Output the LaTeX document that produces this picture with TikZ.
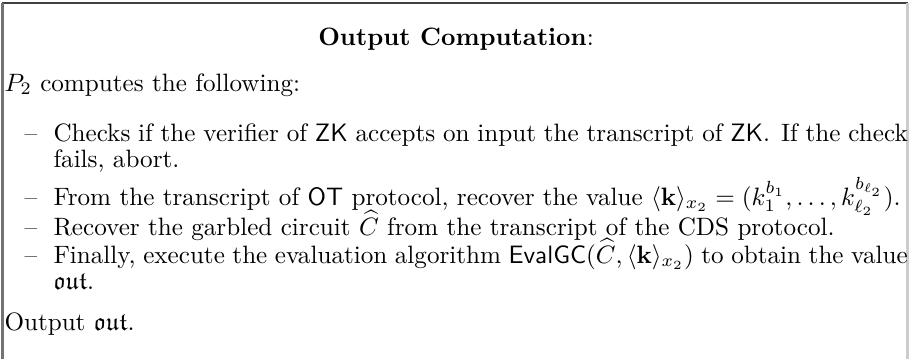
\documentclass[tikz,border=0pt]{standalone}
\usepackage{amsmath, amssymb}
\usepackage{tikz}
\usetikzlibrary{calc, positioning}

\tikzset{
	txt/.style={anchor=base west, inner sep=0pt, font=\fontsize{10}{10.4}\selectfont},
	itemtxt/.style={txt, text width=340pt, align=justify},
	itemdash/.style={txt}
}

\begin{document}
\begin{tikzpicture}[x=0.398pt, y=-0.398pt]
	
	% Constants
	\def\xdash{24}
	\def\xitem{53}
	
	\useasboundingbox (0,0) rectangle (909,359);
	
	% === FRAME ===
	\draw[black!75, line width=0.8pt] (2,3) -- (908,3);
	\draw[black!55, line width=0.8pt] (2.5,3) -- (2.5,359);
	\draw[black!20, line width=0.8pt] (907.5,3) -- (907.5,359);
	
	% === TITLE ===
	\node[anchor=base, inner sep=0pt] (title) at (456,45) {\textbf{Output Computation}:};
	\node[txt] (intro) at (4,91) {$P_2$ computes the following:};
	
	% === ITEMS ===
	\node[itemdash] (d1) at (\xdash,141) {--};
	\node[itemtxt] (i1) at (\xitem,141) {Checks if the verifier of $\mathsf{ZK}$ accepts on input the transcript of $\mathsf{ZK}$. If the check\linebreak fails, abort.};
	\node[itemdash] (d2) at (\xdash,205) {--};
	\node[itemtxt] (i2) at (\xitem,205) {From the transcript of $\mathsf{OT}$ protocol, recover the value $\langle \mathbf{k}\rangle_{x_2} = (k_1^{b_1},\ldots,k_{\ell_2}^{b_{\ell_2}})$.};
	\node[itemdash] (d3) at (\xdash,235) {--};
	\node[itemtxt] (i3) at (\xitem,235) {Recover the garbled circuit $\widehat{C}$ from the transcript of the CDS protocol.};
	\node[itemdash] (d4) at (\xdash,263) {--};
	\node[itemtxt] (i4) at (\xitem,263) {Finally, execute the evaluation algorithm $\mathsf{EvalGC}(\widehat{C},\langle \mathbf{k}\rangle_{x_2})$ to obtain the value\linebreak $\mathfrak{out}$.};
	
	% === OUTPUT ===
	\node[txt] (out) at (4,330) {Output $\mathfrak{out}$.};
	
\end{tikzpicture}
\end{document}
